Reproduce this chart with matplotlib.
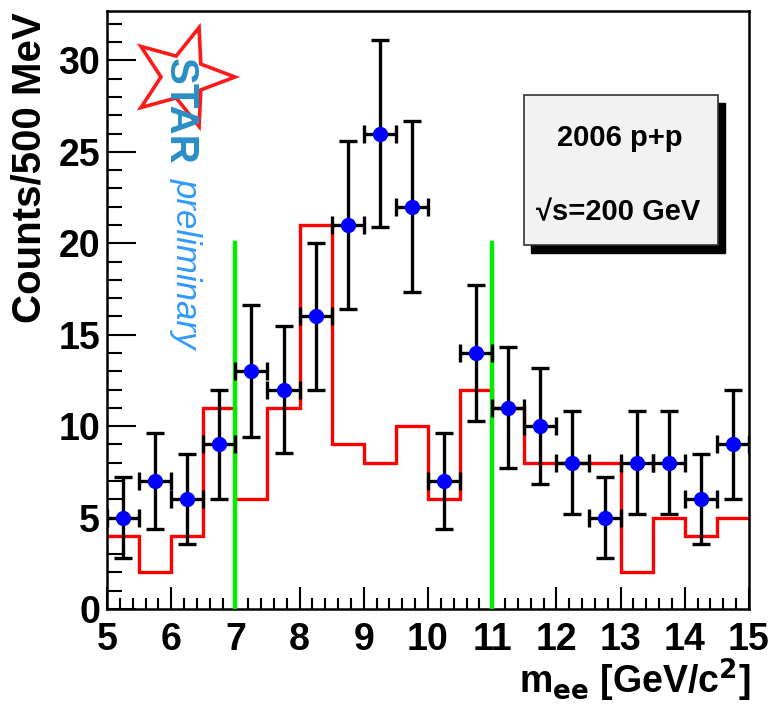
import numpy as np
import matplotlib
matplotlib.use("Agg")
import matplotlib.pyplot as plt
from matplotlib.patches import Polygon, Rectangle
from matplotlib.ticker import MultipleLocator

plt.rcParams['font.family'] = ['Liberation Sans', 'DejaVu Sans']

# ---- data ----
bin_edges = np.arange(5.0, 15.01, 0.5)
bin_centers = (bin_edges[:-1] + bin_edges[1:]) / 2
counts = [5, 7, 6, 9, 13, 12, 16, 21, 26, 22, 7, 14, 11, 10, 8, 5, 8, 8, 6, 9]
background = [4, 2, 4, 11, 6, 11, 21, 9, 8, 10, 6, 12, 11, 8, 8, 8, 2, 5, 4, 5]
window_lines = [7, 11]
window_height = 20
xlabels = ['5', '6', '7', '8', '9', '10', '11', '12', '13', '14', '15']

W, H = 772, 711
fig = plt.figure(figsize=(W / 100, H / 100), dpi=100)
L, R, T, B = 107, 749, 11, 609
ax = fig.add_axes([L / W, (H - B) / H, (R - L) / W, (B - T) / H])

counts = np.array(counts, dtype=float)
err = np.sqrt(counts)

# background histogram (red)
ax.stairs(background, bin_edges, baseline=None, color='#ff0000', lw=2.4, zorder=2)

# window lines (green)
for xv in window_lines:
    ax.plot([xv, xv], [0, window_height], color='#00ee00', lw=3.2, zorder=3)

# data points
ax.errorbar(bin_centers, counts, yerr=err, xerr=0.25, fmt='o', color='#0000ff',
            ecolor='black', elinewidth=2.4, capsize=6.5, capthick=2.4,
            markersize=10, zorder=4)

ax.set_xlim(5, 15)
ax.set_ylim(0, 32.7)
ax.xaxis.set_major_locator(MultipleLocator(1))
ax.xaxis.set_minor_locator(MultipleLocator(0.2))
ax.yaxis.set_major_locator(MultipleLocator(5))
ax.yaxis.set_minor_locator(MultipleLocator(1))
ax.set_xticks(range(5, 16))
ax.set_xticklabels(xlabels)
ax.tick_params(axis='both', which='both', direction='in', top=False, right=False,
               width=1.5, colors='black')
ax.tick_params(axis='x', which='major', length=16, pad=9, labelsize=27)
ax.tick_params(axis='x', which='minor', length=8)
ax.tick_params(axis='y', which='major', length=21, pad=5, labelsize=27)
ax.tick_params(axis='y', which='minor', length=11)
for lab in ax.get_xticklabels() + ax.get_yticklabels():
    lab.set_fontweight('bold')
for sp in ax.spines.values():
    sp.set_linewidth(1.8)

# axis titles
fig.text(30 / W, 1 - 12 / H, 'Counts/500 MeV', rotation=90, ha='center', va='top',
         fontsize=29, fontweight='bold')
fig.text(751 / W, 1 - 680 / H, r'm$_{\mathbf{ee}}$ [GeV/c$^{\mathbf{2}}$]', ha='right',
         va='center', fontsize=27, fontweight='bold')

# STAR star logo
cx, cy, Ro, Ri = 183, 77, 52, 22
pts = []
for k in range(10):
    ang = np.deg2rad(36 * k)
    r = Ro if k % 2 == 0 else Ri
    px = cx + r * np.cos(ang)
    py = cy - r * np.sin(ang)
    pts.append((px / W, 1 - py / H))
fig.patches.append(Polygon(pts, closed=True, fill=False, edgecolor='#ff1a1a', lw=2.6,
                           transform=fig.transFigure, zorder=5))
fig.text(180 / W, 1 - 58 / H, 'STAR', rotation=-90, ha='center', va='top',
         fontsize=29, fontweight='bold', color='#2a8fc4', zorder=6)
fig.text(186 / W, 1 - 178 / H, 'preliminary', rotation=-90, ha='center', va='top',
         fontsize=25, style='italic', color='#3399ff', zorder=6)

# info box with shadow
bx0, by0, bx1, by1 = 524, 95, 718, 245
fig.patches.append(Rectangle(((bx0 + 7) / W, 1 - (by1 + 8) / H), (bx1 - bx0) / W,
                             (by1 - by0) / H, transform=fig.transFigure,
                             facecolor='black', edgecolor='black', zorder=5))
fig.patches.append(Rectangle((bx0 / W, 1 - by1 / H), (bx1 - bx0) / W, (by1 - by0) / H,
                             transform=fig.transFigure, facecolor='#f2f2f2',
                             edgecolor='#333333', lw=1.2, zorder=6))
fig.text(620 / W, 1 - 138 / H, '2006 p+p', ha='center', va='center', fontsize=21,
         fontweight='bold', zorder=7)
fig.text(618 / W, 1 - 212 / H, '\u221as=200 GeV', ha='center', va='center',
         fontsize=21, fontweight='bold', zorder=7)

fig.savefig('out.png', dpi=100)
